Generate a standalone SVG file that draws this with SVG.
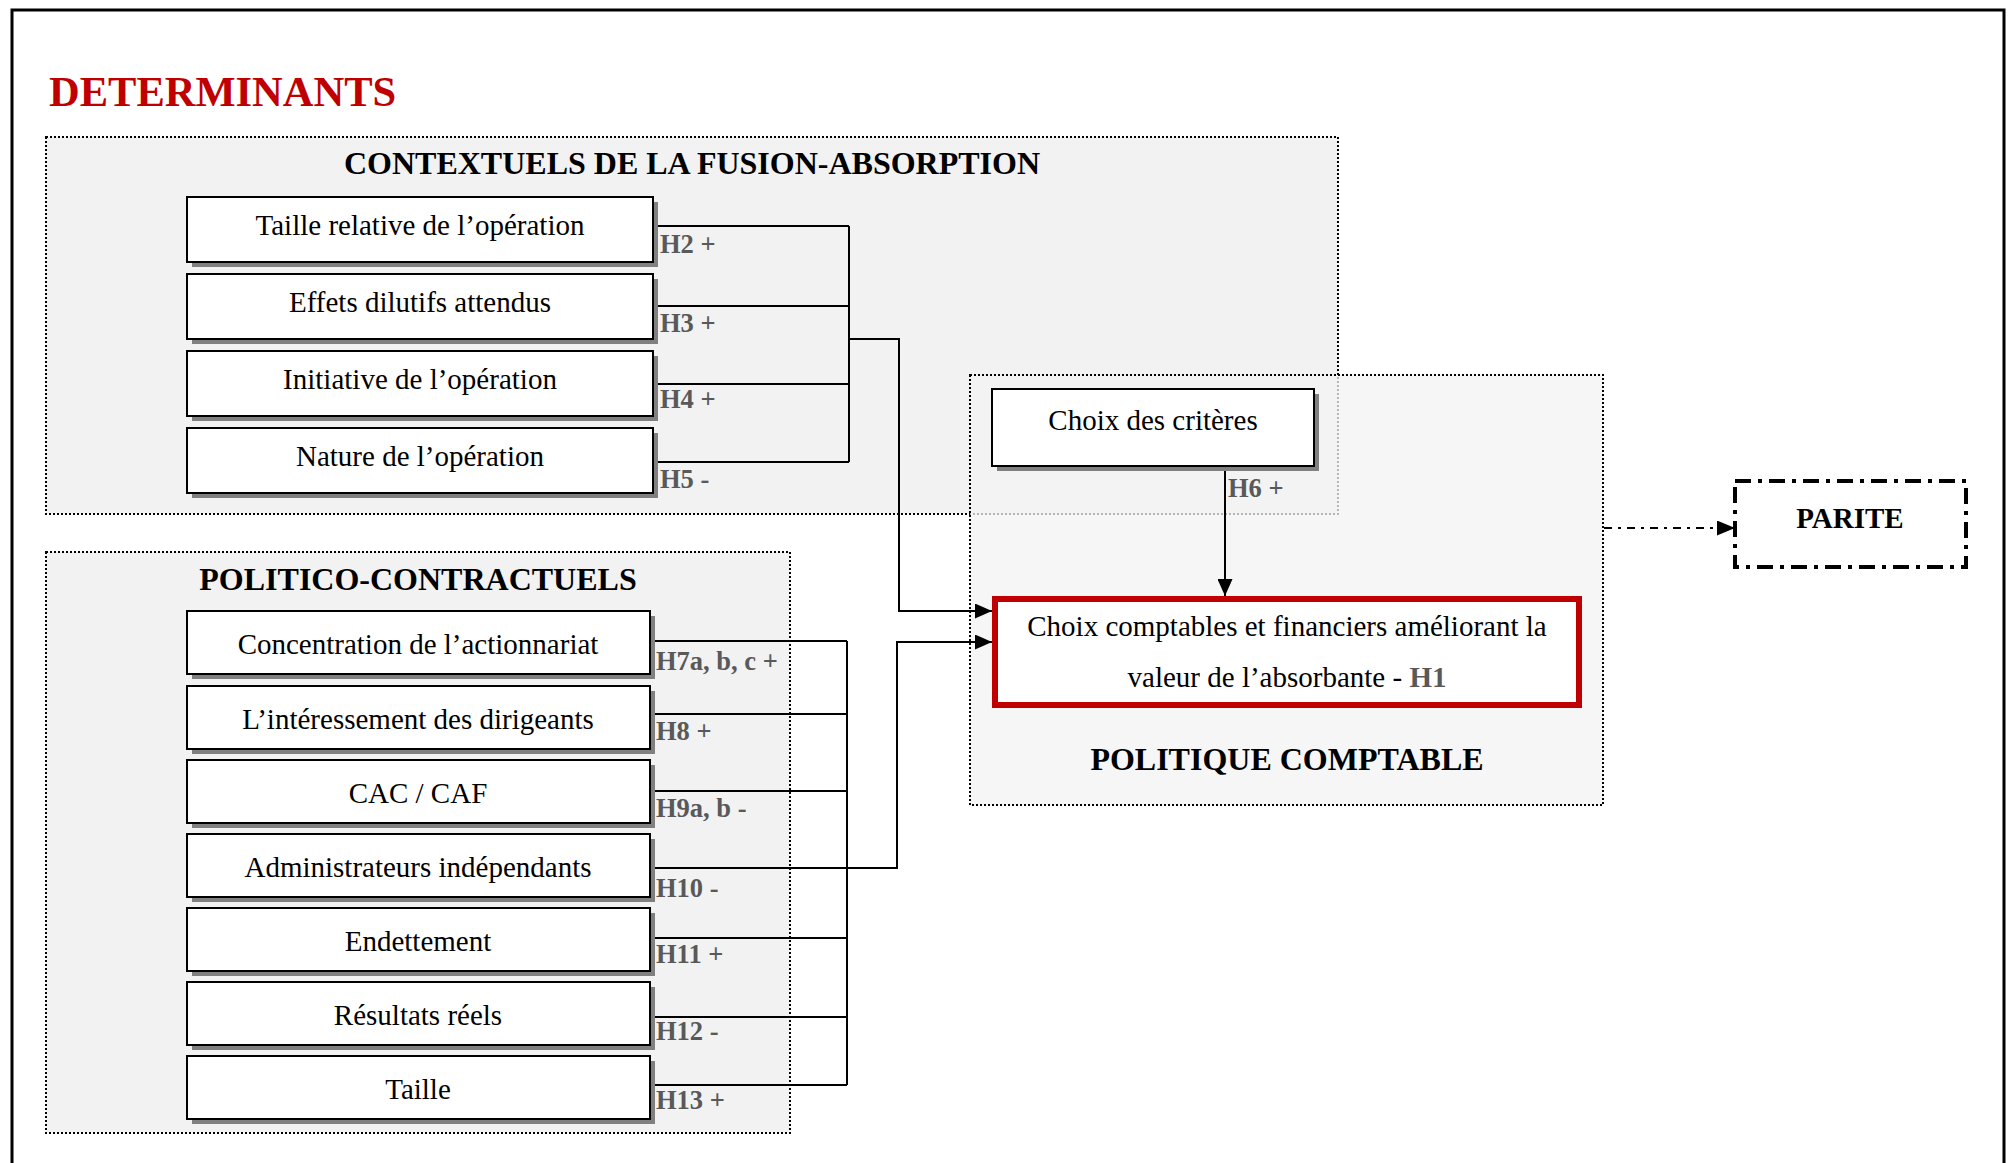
<svg xmlns="http://www.w3.org/2000/svg" width="2013" height="1163" viewBox="0 0 2013 1163">
  <defs>
    <marker id="arrow" viewBox="0 0 17 15" refX="17" refY="7.5" markerWidth="17" markerHeight="15" markerUnits="userSpaceOnUse" orient="auto">
      <path d="M0,0 L17,7.5 L0,15 Z" fill="#000"/>
    </marker>
    <marker id="arrow-big" viewBox="0 0 18 15" refX="18" refY="7.5" markerWidth="18" markerHeight="15" markerUnits="userSpaceOnUse" orient="auto">
      <path d="M0,0 L18,7.5 L0,15 Z" fill="#000"/>
    </marker>
  </defs>
  <style>
    text { font-family: "Liberation Serif", "Times New Roman", serif; }
    .box { fill: #fff; stroke: #000; stroke-width: 2; }
    .shadow { fill: #808080; }
    .lbl { font-size: 29px; text-anchor: middle; fill: #000; }
    .hyp { font-size: 26.5px; font-weight: bold; fill: #595959; }
    .title { font-size: 32px; font-weight: bold; text-anchor: middle; fill: #000; }
    .area { stroke: #000; stroke-width: 2; stroke-dasharray: 2 2; }
    .wire { fill: none; stroke: #000; stroke-width: 2; }
  </style>

  <!-- page frame (open at the bottom) -->
  <path d="M12,1175 V10 H2004 V1175" fill="none" stroke="#000" stroke-width="3"/>

  <text x="49" y="106" font-size="42.5" font-weight="bold" fill="#c00000">DETERMINANTS</text>

  <!-- grouping areas -->
  <g id="area-contextuels">
    <rect class="area" x="46" y="137" width="1292" height="377" fill="#f2f2f2"/>
    <text class="title" x="692" y="174">CONTEXTUELS DE LA FUSION-ABSORPTION</text>
  </g>
  <g id="area-politico">
    <rect class="area" x="46" y="552" width="744" height="581" fill="#f2f2f2"/>
    <text class="title" x="418" y="590">POLITICO-CONTRACTUELS</text>
  </g>
  <g id="area-politique">
    <rect class="area" x="970" y="375" width="633" height="430" fill="#f3f3f3" fill-opacity="0.75"/>
    <text class="title" x="1287" y="770">POLITIQUE COMPTABLE</text>
  </g>

  <!-- connectors -->
  <g id="connectors">
    <!-- contextual determinants bus -->
    <path class="wire" d="M653,226 H849 M653,306 H849 M653,384 H849 M653,462 H849 M849,226 V462"/>
    <path class="wire" d="M849,339 H899 V611 H992" marker-end="url(#arrow)"/>
    <!-- politico-contractual determinants bus -->
    <path class="wire" d="M650,641 H847 M650,714 H847 M650,791 H847 M650,868 H847 M650,938 H847 M650,1017 H847 M650,1085 H847 M847,641 V1085"/>
    <path class="wire" d="M843,868 H897 V642 H992" marker-end="url(#arrow)"/>
    <!-- criteria to accounting choices -->
    <path class="wire" d="M1225,466 V596" marker-end="url(#arrow)"/>
    <!-- accounting policy to parity -->
    <path class="wire" d="M1604,528 H1735" stroke-width="2.5" stroke-dasharray="8 6 3 6" marker-end="url(#arrow-big)"/>

    <!-- hypothesis labels -->
    <text class="hyp" x="660" y="253">H2 +</text>
    <text class="hyp" x="660" y="332">H3 +</text>
    <text class="hyp" x="660" y="408">H4 +</text>
    <text class="hyp" x="660" y="488">H5 -</text>
    <text class="hyp" x="656" y="670">H7a, b, c +</text>
    <text class="hyp" x="656" y="740">H8 +</text>
    <text class="hyp" x="656" y="817">H9a, b -</text>
    <text class="hyp" x="656" y="897">H10 -</text>
    <text class="hyp" x="656" y="963">H11 +</text>
    <text class="hyp" x="656" y="1040">H12 -</text>
    <text class="hyp" x="656" y="1109">H13 +</text>
    <text class="hyp" x="1228" y="497">H6 +</text>
  </g>

  <!-- contextual determinants -->
  <g id="taille-relative">
    <rect class="shadow" x="192" y="202" width="466" height="65"/>
    <rect class="box" x="187" y="197" width="466" height="65"/>
    <text class="lbl" x="420" y="235">Taille relative de l’opération</text>
  </g>
  <g id="effets-dilutifs">
    <rect class="shadow" x="192" y="279" width="466" height="65"/>
    <rect class="box" x="187" y="274" width="466" height="65"/>
    <text class="lbl" x="420" y="312">Effets dilutifs attendus</text>
  </g>
  <g id="initiative">
    <rect class="shadow" x="192" y="356" width="466" height="65"/>
    <rect class="box" x="187" y="351" width="466" height="65"/>
    <text class="lbl" x="420" y="389">Initiative de l’opération</text>
  </g>
  <g id="nature">
    <rect class="shadow" x="192" y="433" width="466" height="65"/>
    <rect class="box" x="187" y="428" width="466" height="65"/>
    <text class="lbl" x="420" y="466">Nature de l’opération</text>
  </g>

  <!-- politico-contractual determinants -->
  <g id="concentration">
    <rect class="shadow" x="192" y="616" width="463" height="63"/>
    <rect class="box" x="187" y="611" width="463" height="63"/>
    <text class="lbl" x="418" y="654">Concentration de l’actionnariat</text>
  </g>
  <g id="interessement">
    <rect class="shadow" x="192" y="691" width="463" height="63"/>
    <rect class="box" x="187" y="686" width="463" height="63"/>
    <text class="lbl" x="418" y="729">L’intéressement des dirigeants</text>
  </g>
  <g id="cac-caf">
    <rect class="shadow" x="192" y="765" width="463" height="63"/>
    <rect class="box" x="187" y="760" width="463" height="63"/>
    <text class="lbl" x="418" y="803">CAC / CAF</text>
  </g>
  <g id="administrateurs">
    <rect class="shadow" x="192" y="839" width="463" height="63"/>
    <rect class="box" x="187" y="834" width="463" height="63"/>
    <text class="lbl" x="418" y="877">Administrateurs indépendants</text>
  </g>
  <g id="endettement">
    <rect class="shadow" x="192" y="913" width="463" height="63"/>
    <rect class="box" x="187" y="908" width="463" height="63"/>
    <text class="lbl" x="418" y="951">Endettement</text>
  </g>
  <g id="resultats">
    <rect class="shadow" x="192" y="987" width="463" height="63"/>
    <rect class="box" x="187" y="982" width="463" height="63"/>
    <text class="lbl" x="418" y="1025">Résultats réels</text>
  </g>
  <g id="taille">
    <rect class="shadow" x="192" y="1061" width="463" height="63"/>
    <rect class="box" x="187" y="1056" width="463" height="63"/>
    <text class="lbl" x="418" y="1099">Taille</text>
  </g>

  <!-- accounting policy -->
  <g id="choix-criteres">
    <rect class="shadow" x="997" y="394" width="322" height="77"/>
    <rect class="box" x="992" y="389" width="322" height="77"/>
    <text class="lbl" x="1153" y="430">Choix des critères</text>
  </g>
  <g id="choix-comptables">
    <rect x="995" y="599" width="584" height="106" fill="#fff" stroke="#c00000" stroke-width="6"/>
    <text class="lbl" x="1287" y="636">Choix comptables et financiers améliorant la</text>
    <text class="lbl" x="1287" y="687">valeur de l’absorbante - <tspan font-weight="bold" fill="#595959">H1</tspan></text>
  </g>

  <!-- outcome -->
  <g id="parite">
    <rect x="1735" y="481" width="231" height="86" fill="none" stroke="#000" stroke-width="4" stroke-dasharray="16 7 4 7"/>
    <text x="1850" y="528" font-size="29" font-weight="bold" text-anchor="middle">PARITE</text>
  </g>
</svg>
